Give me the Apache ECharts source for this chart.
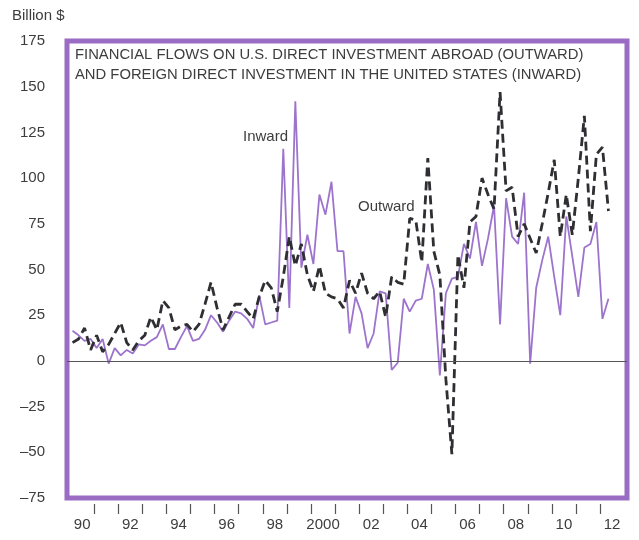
<!DOCTYPE html>
<html>
<head>
<meta charset="utf-8">
<script src="https://cdn.jsdelivr.net/npm/echarts@6/dist/echarts.min.js"></script>
<style>
html,body{margin:0;padding:0;background:#fff;}
#chart{width:639px;height:540px;}
</style>
</head>
<body>
<div id="chart"></div>
<script>
// Quarterly data, 1990Q1 .. 2012Q2 (billion $)
const startYear = 1990;
const outward = [10,12,18,6,14,5,9,15,21,10,6,11,14,24,17,33,29,17,19,20,16,20,31,43,29,17,24,31,31,27,23,35,44,40,27,46,68,52,64,47,38,52,37,35,34,29,44,37,48,37,34,38,24,46,43,42,78,77,54,111,60,47,-10,-51,58,40,76,79,100,91,83,147,93,95,68,75,67,59,75,92,110,68,91,69,100,134,71,113,117,82];
const inward = [16.5,14,11,12,7,12,-1.5,7,3,6,4,9,8.5,11,13,20,6.5,6.5,13,19,11,12,17,25,21,16,22,27,26,23,18,36,20,21,22,116,29,142,51,69,53,91,80,98,60,60,15,35,26,7,15,38,37,-5,-1,34,27,33,34,53,39,-8,37,45,46,64,56,76,52,67,85,20,89,68,64,92,-1.5,40,55,68,46,25,79,57,35,62,64,76,23,34];
const yTickValues = [-75,-50,-25,0,25,50,75,100,125,150,175];
const xTickYears = [1991,1992,1993,1994,1995,1996,1997,1998,1999,2000,2001,2002,2003,2004,2005,2006,2007,2008,2009,2010,2011,2012];
const xLabelYears = [1990,1992,1994,1996,1998,2000,2002,2004,2006,2008,2010,2012];
const titleLines = ['FINANCIAL FLOWS ON U.S. DIRECT INVESTMENT ABROAD (OUTWARD)','AND FOREIGN DIRECT INVESTMENT IN THE UNITED STATES (INWARD)'];

const quarterLabels = outward.map((v,i)=> (startYear + Math.floor(i/4)) + 'Q' + (i%4+1));
function toPts(arr){ return arr.map((v,i)=>[startYear + i/4 + 0.1, v]); }

const FONT = '"Liberation Sans", Arial, sans-serif';
const TXT = '#3d3d3d';
const PURPLE_FRAME = '#9a6cc3';
const PURPLE_LINE = '#9d74cd';

const chart = echarts.init(document.getElementById('chart'), null, {renderer:'canvas'});
chart.setOption({
  animation:false,
  backgroundColor:'#fff',
  grid:{left:67, right:12, top:41, bottom:42, show:true, borderColor:PURPLE_FRAME, borderWidth:5, backgroundColor:'transparent'},
  xAxis:{
    type:'value', min:1989.87, max:2013.12, offset:6,
    axisLine:{show:false, onZero:false},
    splitLine:{show:false},
    axisTick:{show:true, length:10, customValues:xTickYears, lineStyle:{color:'#555', width:1.2}},
    axisLabel:{customValues:xLabelYears.map(y=>y+0.5), margin:13, color:TXT, fontSize:15, fontFamily:FONT,
      formatter:function(v){ const y=Math.round(v-0.5); return y===2000 ? '2000' : String(y%100).padStart(2,'0'); }}
  },
  yAxis:{
    type:'value', min:-75, max:175, interval:25,
    axisLine:{show:false}, axisTick:{show:false}, splitLine:{show:false},
    axisLabel:{margin:22, color:TXT, fontSize:15, fontFamily:FONT,
      formatter:function(v){ return v<0 ? '\u2013'+Math.abs(v) : String(v); }}
  },
  graphic:[
    {type:'text', left:12, top:8, style:{text:'Billion $', fill:TXT, font:'15px '+FONT}},
    {type:'text', left:75, top:47, style:{text:titleLines[0], fill:TXT, font:'14.8px '+FONT}},
    {type:'text', left:75, top:67, style:{text:titleLines[1], fill:TXT, font:'14.8px '+FONT}},
    {type:'text', left:243, top:129, style:{text:'Inward', fill:TXT, font:'15px '+FONT}},
    {type:'text', left:358, top:199, style:{text:'Outward', fill:TXT, font:'15px '+FONT}}
  ],
  series:[
    {name:'Inward', type:'line', data:toPts(inward), showSymbol:false, symbol:'none',
      lineStyle:{color:PURPLE_LINE, width:1.8}, z:2,
      markLine:{silent:true, symbol:'none', label:{show:false},
        lineStyle:{color:'#555', width:1, type:'solid'}, data:[{yAxis:0}]}},
    {name:'Outward', type:'line', data:toPts(outward), showSymbol:false, symbol:'none',
      lineStyle:{color:'#2f2f33', width:2.8, type:[9,5]}, z:3}
  ]
});
</script>
</body>
</html>
